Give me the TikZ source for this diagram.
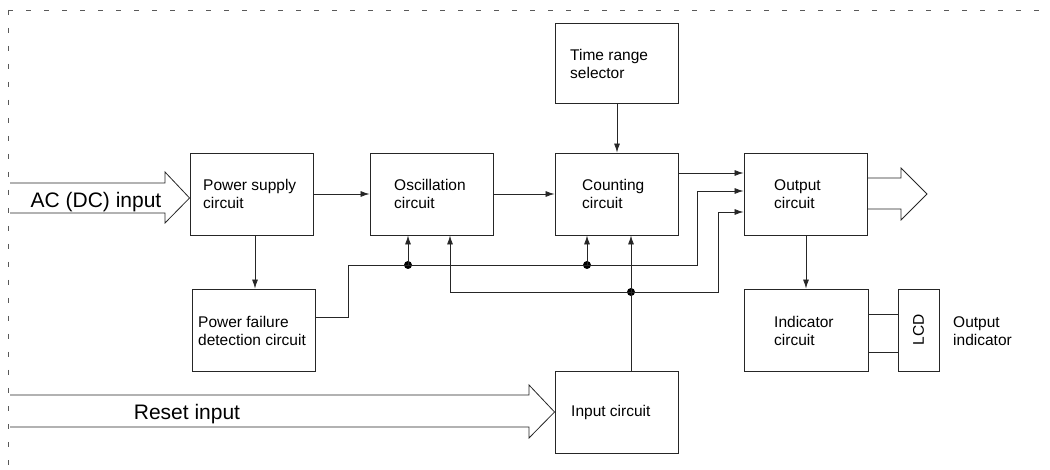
\documentclass[tikz,border=0pt]{standalone}
\usepackage{fontspec}
\setmainfont{Liberation Sans}
\usetikzlibrary{arrows.meta,calc}
\begin{document}
\begin{tikzpicture}[x=1pt,y=-1pt,
  blk/.style={draw=black!85, line width=0.9pt, minimum width=123pt, minimum height=82pt, inner sep=0pt},
  txt/.style={anchor=west, align=left, inner sep=0pt, font=\fontsize{15.5}{18}\selectfont},
  bigtxt/.style={inner sep=0pt, anchor=base, font=\fontsize{21}{24}\selectfont},
  con/.style={line width=0.8pt, draw=black!85},
  arr/.style={con, -{Latex[length=9pt,width=6pt]}},
  hollow/.style={line width=0.8pt, draw=black!85, line join=miter},
  jdot/.style={circle, fill=black, inner sep=0pt, minimum size=8pt},
  dashframe/.style={line width=0.9pt, draw=black!65, dash pattern=on 5pt off 13pt}]
\useasboundingbox (0,0) rectangle (1050,470);
% frame
\draw[dashframe] (8,10) -- (1050,10);
\draw[dashframe] (8,10) -- (8,470);
% blocks
\node[blk, minimum height=80pt] (time) at (616.5,63) {};
\node[blk] (ps)  at (251.5,194) {};
\node[blk] (osc) at (431.5,194) {};
\node[blk] (cnt) at (616.5,194) {};
\node[blk] (out) at (805.5,194) {};
\node[blk] (pf)  at (253.5,330) {};
\node[blk, minimum width=124pt] (ind) at (806,330) {};
\node[blk, minimum width=41pt] (lcd) at (918.5,330) {};
\node[blk] (in)  at (616.5,412) {};
% texts
\node[txt] (timeT) at (570,64) {Time range\\selector};
\node[txt] (psT)   at (203,194) {Power supply\\circuit};
\node[txt] (oscT)  at (394,194) {Oscillation\\circuit};
\node[txt] (cntT)  at (582,194) {Counting\\circuit};
\node[txt] (outT)  at (774,194) {Output\\circuit};
\node[txt] (pfT)   at (198,331) {Power failure\\detection circuit};
\node[txt] (indT)  at (774,331) {Indicator\\circuit};
\node[txt] (inT)   at (571,412) {Input circuit};
\node[txt, anchor=center, rotate=90] (lcdT) at (lcd) {LCD};
\node[txt] (oiT)   at (953,331) {Output\\indicator};
\node[bigtxt] (acT)    at (96,208) {AC (DC) input};
\node[bigtxt] (resetT) at (187,420) {Reset input};
% big hollow arrows
\draw[hollow] (10,183) -- (165,183) -- (165,172) -- ($(ps.west)+(0,4)$) -- (165,223) -- (165,213) -- (10,213);
\draw[hollow] (10,395) -- (529,395) -- (529,385) -- (in.west) -- (529,438) -- (529,427) -- (10,427);
\draw[hollow] (out.east |- 0,178) -- (901,178) -- (901,168) -- (927,194) -- (901,220) -- (901,209) -- (out.east |- 0,209);
% junction dots
\node[jdot] (d1) at (408,265) {};
\node[jdot] (d2) at (587,265) {};
\node[jdot] (d3) at (631,292) {};
% connectors
\draw[arr] (ps.east) -- (osc.west);
\draw[arr] (osc.east) -- (cnt.west);
\draw[arr] (time.south -| 617,0) -- (cnt.north -| 617,0);
\draw[arr] (cnt.east |- 0,173) -- (out.west |- 0,173);
\draw[arr] (pf.east |- 0,317) -- (348,317) -- (348,265) -- (697,265) -- (697,191) -- (out.west |- 0,191);
\draw[arr] (d1.center) -- (osc.south -| d1);
\draw[arr] (d2.center) -- (cnt.south -| d2);
\draw[arr] (in.north -| d3) -- (cnt.south -| d3);
\draw[arr] (d3.center) -- (450,292) -- (osc.south -| 450,0);
\draw[arr] (d3.center) -- (718,292) -- (718,212) -- (out.west |- 0,212);
\draw[arr] (ps.south -| 255,0) -- (pf.north -| 255,0);
\draw[arr] (out.south -| 806,0) -- (ind.north -| 806,0);
\draw[con] (ind.east |- 0,314) -- (lcd.west |- 0,314);
\draw[con] (ind.east |- 0,352) -- (lcd.west |- 0,352);
\end{tikzpicture}
\end{document}
